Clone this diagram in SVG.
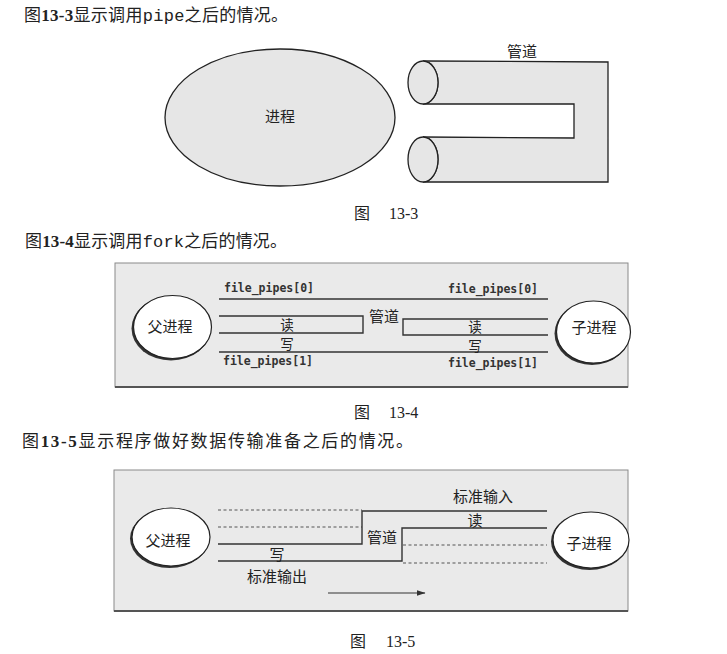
<svg xmlns="http://www.w3.org/2000/svg" width="727" height="654" viewBox="0 0 727 654">
<style>
  .cjk{font-family:"Noto Sans CJK SC","Noto Sans",sans-serif;fill:#222;}
  .lbl{font-family:"Noto Sans CJK SC","Noto Sans",sans-serif;font-size:15px;fill:#222;text-anchor:middle;}
  .sm{font-size:13.5px;}
  .title{font-family:"Noto Sans CJK SC","Noto Sans",sans-serif;font-size:17px;fill:#222;}
  .num{font-family:"Liberation Serif","Noto Sans CJK SC",serif;}
  .numb{font-family:"Liberation Serif","Noto Sans CJK SC",serif;font-weight:bold;}
  .mono{font-family:"Liberation Mono",monospace;}
  .fp{font-family:"DejaVu Sans Mono",monospace;font-size:11.5px;font-weight:bold;fill:#333;}
  .cap{font-family:"Noto Sans CJK SC","Noto Sans",sans-serif;font-size:16px;fill:#222;}
  .line{fill:none;stroke:#333;stroke-width:1.4;}
  .dash{fill:none;stroke:#555;stroke-width:1.2;stroke-dasharray:3,2.5;}
  .frame{fill:#eaeaea;stroke:#8a8a8a;stroke-width:1;}
  .shade{fill:#e6e6e6;stroke:#222;stroke-width:1.3;}
  .proc{fill:#ffffff;stroke:#222;stroke-width:1.2;}
  .procsh{fill:#333;}
</style>
<defs>
  <marker id="arr" markerWidth="9" markerHeight="6" refX="8.5" refY="3" orient="auto" markerUnits="userSpaceOnUse">
    <path d="M0,0 L9,3 L0,6 Z" fill="#333"/>
  </marker>
</defs>

<!-- Figure 13-3 -->
<text class="title" x="24" y="21" textLength="264" lengthAdjust="spacing">图<tspan class="numb">13-3</tspan>显示调用<tspan class="mono">pipe</tspan>之后的情况。</text>
<g id="fig3">
  <g id="process">
    <ellipse class="shade" cx="280" cy="117.5" rx="115" ry="68.5"/>
    <text class="lbl" x="280" y="122">进程</text>
  </g>
  <g id="pipe">
    <path class="shade" d="M423,61 L608,62 L608,182 L423,182 A15,22.5 0 0 0 423,137 L574,138 L574,104 L423,104 A15,21.5 0 0 0 423,61 Z"/>
    <ellipse class="shade" cx="423" cy="82.5" rx="15" ry="21.5"/>
    <ellipse class="shade" cx="423" cy="159.5" rx="15" ry="22.5"/>
    <text class="lbl" x="522" y="57">管道</text>
  </g>
</g>
<text class="cap" x="354" y="219">图<tspan class="num" x="389">13-3</tspan></text>

<!-- Figure 13-4 -->
<text class="title" x="25" y="247" textLength="262" lengthAdjust="spacing">图<tspan class="numb">13-4</tspan>显示调用<tspan class="mono">fork</tspan>之后的情况。</text>
<g id="fig4">
  <rect class="frame" x="115" y="263" width="513" height="124"/>
  <line x1="115" y1="387" x2="628" y2="387" stroke="#555" stroke-width="2"/>
  <g id="fig4-connectors">
    <line class="line" x1="219" y1="299" x2="548" y2="299"/>
    <path class="line" d="M219,316 H363 V333 H219"/>
    <path class="line" d="M548,319 H403 V335 H548"/>
    <line class="line" x1="219" y1="352" x2="548" y2="352"/>
  </g>
  <g id="fig4-parent">
    <ellipse class="procsh" cx="171" cy="328.5" rx="39.5" ry="32"/>
    <ellipse class="proc" cx="172.5" cy="327" rx="39" ry="31.5"/>
    <text class="lbl" x="170" y="332">父进程</text>
  </g>
  <g id="fig4-child">
    <ellipse class="procsh" cx="592" cy="333.5" rx="37.5" ry="31.5"/>
    <ellipse class="proc" cx="593.5" cy="332" rx="37" ry="31"/>
    <text class="lbl" x="594" y="333">子进程</text>
  </g>
  <g id="fig4-labels">
    <text class="fp" x="224" y="292">file_pipes[0]</text>
    <text class="fp" x="448" y="293">file_pipes[0]</text>
    <text class="fp" x="223" y="365">file_pipes[1]</text>
    <text class="fp" x="448" y="367">file_pipes[1]</text>
    <text class="lbl sm" x="287" y="329.5">读</text>
    <text class="lbl sm" x="287" y="349">写</text>
    <text class="lbl sm" x="475" y="331.5">读</text>
    <text class="lbl sm" x="475" y="350.5">写</text>
    <text class="lbl" x="384" y="322">管道</text>
  </g>
</g>
<text class="cap" x="354" y="418">图<tspan class="num" x="389">13-4</tspan></text>

<!-- Figure 13-5 -->
<text class="title" x="22" y="447" textLength="391" lengthAdjust="spacing">图<tspan class="numb">13-5</tspan>显示程序做好数据传输准备之后的情况。</text>
<g id="fig5">
  <rect class="frame" x="114" y="470" width="514" height="141"/>
  <line x1="114" y1="611" x2="628" y2="611" stroke="#555" stroke-width="2"/>
  <g id="fig5-connectors">
    <line class="dash" x1="218" y1="510" x2="362" y2="510"/>
    <line class="dash" x1="218" y1="527" x2="362" y2="527"/>
    <path class="line" d="M218,544 H362 V511 H547"/>
    <path class="line" d="M218,561 H402 V528 H547"/>
    <line class="dash" x1="403" y1="545" x2="547" y2="545"/>
    <line class="dash" x1="403" y1="563" x2="547" y2="563"/>
    <line x1="328" y1="593" x2="425" y2="593" stroke="#333" stroke-width="1" marker-end="url(#arr)"/>
  </g>
  <g id="fig5-parent">
    <ellipse class="procsh" cx="169.5" cy="538.5" rx="39.5" ry="29.5"/>
    <ellipse class="proc" cx="171" cy="537" rx="39" ry="29"/>
    <text class="lbl" x="168" y="546">父进程</text>
  </g>
  <g id="fig5-child">
    <ellipse class="procsh" cx="589.5" cy="541.5" rx="38.5" ry="28.5"/>
    <ellipse class="proc" cx="591" cy="540" rx="38" ry="28"/>
    <text class="lbl" x="589" y="549">子进程</text>
  </g>
  <g id="fig5-labels">
    <text class="lbl" x="483" y="502">标准输入</text>
    <text class="lbl" x="475" y="526">读</text>
    <text class="lbl" x="382" y="543">管道</text>
    <text class="lbl" x="277" y="560">写</text>
    <text class="lbl" x="277" y="582">标准输出</text>
  </g>
</g>
<text class="cap" x="350" y="647">图<tspan class="num" x="386">13-5</tspan></text>
</svg>
